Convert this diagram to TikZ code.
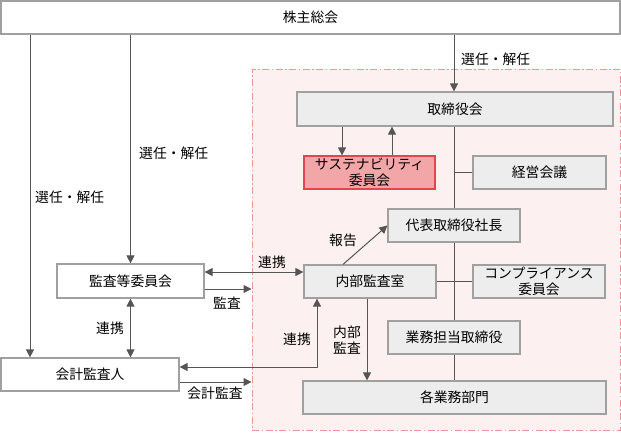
\documentclass[tikz,border=0pt]{standalone}
\usepackage{fontspec}
\setmainfont{Noto Sans CJK JP}
\usetikzlibrary{arrows.meta,calc}
\definecolor{BoxClr}{RGB}{237,237,237}
\definecolor{EdgeClr}{RGB}{160,160,160}
\definecolor{LineClr}{RGB}{85,85,85}
\definecolor{ZoneClr}{RGB}{252,240,240}
\definecolor{ZoneEdge}{RGB}{240,150,150}
\definecolor{SusClr}{RGB}{243,166,168}
\definecolor{SusEdge}{RGB}{225,70,80}

\begin{document}
\begin{tikzpicture}[x=1pt,y=-1pt,
  box/.style={draw=EdgeClr,line width=1.2pt,fill=BoxClr,inner sep=0pt,align=center,
    minimum width=132pt,minimum height=33pt,font=\fontsize{13.8}{16.5}\selectfont},
  wbox/.style={box,fill=white},
  susbox/.style={box,draw=SusEdge,fill=SusClr},
  zone/.style={draw=ZoneEdge,fill=ZoneClr,line width=1pt,inner sep=0pt,
    dash pattern=on 7pt off 2.5pt on 1.5pt off 2.5pt},
  lnk/.style={draw=LineClr,line width=1pt},
  arr/.style={lnk,-{Triangle[length=8pt,width=8pt]}},
  darr/.style={lnk,{Triangle[length=8pt,width=8pt]}-{Triangle[length=8pt,width=8pt]}},
  lbl/.style={font=\fontsize{13.8}{16.5}\selectfont,inner sep=0pt,align=center}]
\useasboundingbox (0,0) rectangle (621,432);

\node[zone,minimum width=368pt,minimum height=361pt] (zone) at (436,249.5) {};

\node[wbox,minimum width=619pt] (soukai) at (310.5,17.5) {株主総会};
\node[box,minimum width=316pt,minimum height=34pt] (torishimari) at (455,109) {取締役会};
\node[susbox,minimum width=131pt] (sustain) at (369.5,172.5) {サステナビリティ\\委員会};
\node[box,minimum width=133pt] (keiei) at (539.5,172.5) {経営会議};
\node[box] (daihyo) at (454,225.5) {代表取締役社長};
\node[box] (naibu) at (370,281.5) {内部監査室};
\node[box] (comp) at (539,281.5) {コンプライアンス\\委員会};
\node[box] (gyomu) at (454,337.5) {業務担当取締役};
\node[box,minimum width=303pt] (bumon) at (454.5,397.5) {各業務部門};
\node[wbox,minimum width=147pt,minimum height=34pt] (kansa) at (130.5,281) {監査等委員会};
\node[wbox,minimum width=178pt] (kaikei) at (90,374.5) {会計監査人};

\coordinate (audit) at ([xshift=-3pt]naibu.south);
\coordinate (susin) at ([xshift=-27.5pt]sustain.north);
\coordinate (susout) at ([xshift=22.5pt]sustain.north);

\draw[arr] (soukai.south -| daihyo.north) -- (torishimari.north -| daihyo.north);
\draw[arr] (soukai.south -| kansa.north) -- (kansa.north);
\draw[arr] (soukai.south -| 30,0) -- (kaikei.north -| 30,0);
\draw[darr] (kansa.south) -- (kaikei.north -| kansa.south);
\draw[darr] ([yshift=9pt]kansa.east) -- ([yshift=9pt]kansa.east -| naibu.west);
\draw[arr] ([yshift=-8pt]kansa.east) -- ([yshift=-8pt]kansa.east -| zone.west);
\draw[arr] ([yshift=-7.5pt]kaikei.east) -- ([yshift=-7.5pt]kaikei.east -| zone.west);
\draw[darr] ([xshift=-53pt]naibu.south) |- ([yshift=7.5pt]kaikei.east);
\draw[arr] ([xshift=-27pt]naibu.north) -- (daihyo.west);
\draw[arr] (audit) -- (bumon.north -| audit);
\draw[arr] (torishimari.south -| susin) -- (susin);
\draw[arr] (susout) -- (torishimari.south -| susout);

\draw[lnk] (torishimari.south -| daihyo.north) -- (daihyo.north);
\draw[lnk] (daihyo.south) -- (gyomu.north);
\draw[lnk] (gyomu.south) -- (bumon.north -| gyomu.south);
\draw[lnk] (keiei.west) -- (keiei.west -| daihyo.north);
\draw[lnk] (naibu.east) -- (comp.west);

\node[lbl,anchor=west] (l1) at (461,59) {選任・解任};
\node[lbl,anchor=west] (l2) at (139,153) {選任・解任};
\node[lbl,anchor=west] (l3) at (35,197) {選任・解任};
\node[lbl] (l4) at (272,262) {連携};
\node[lbl] (l5) at (227,303) {監査};
\node[lbl] (l6) at (110,328) {連携};
\node[lbl] (l7) at (215,393) {会計監査};
\node[lbl] (l8) at (343,240) {報告};
\node[lbl] (l9) at (297,339) {連携};
\node[lbl] (l10) at (347,340) {内部\\監査};
\end{tikzpicture}
\end{document}
